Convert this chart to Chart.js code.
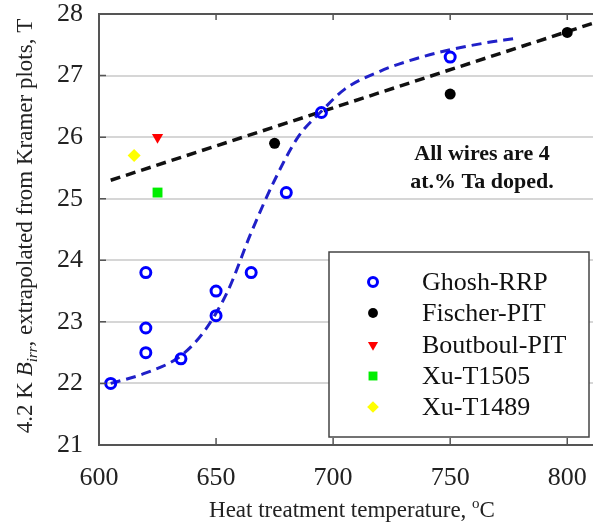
<!DOCTYPE html>
<html>
<head>
<meta charset="utf-8">
<script src="https://cdn.jsdelivr.net/npm/chart.js@4.4.0/dist/chart.umd.min.js"></script>
<style>
  html, body { margin: 0; padding: 0; background: #fff; }
  #wrap { width: 593px; height: 527px; }
</style>
</head>
<body>
<div id="wrap"><canvas id="chart"></canvas></div>
<script>
// data
const xTicks = [600, 650, 700, 750, 800];
const yTicks = [21, 22, 23, 24, 25, 26, 27, 28];

const ghoshT = [605, 620, 620, 620, 635, 650, 650, 665, 680, 695, 750];
const ghoshB = [22.0, 23.8, 22.9, 22.5, 22.4, 23.5, 23.1, 23.8, 25.1, 26.4, 27.3];
const fischerT = [675, 750, 800];
const fischerB = [25.9, 26.7, 27.7];
const boutboulT = [625];
const boutboulB = [26.0];
const xu1505T = [625];
const xu1505B = [25.1];
const xu1489T = [615];
const xu1489B = [25.7];

// dashed guide curves
const rrpFitT = [605, 620, 635, 645, 655, 665, 675, 685, 695, 705, 720, 735, 750, 765, 777];
const rrpFitB = [22.0, 22.17, 22.45, 22.85, 23.5, 24.45, 25.3, 26.0, 26.42, 26.78, 27.07, 27.27, 27.42, 27.53, 27.6];
const pitFitT = [605, 811];
const pitFitB = [25.3, 27.85];

const seriesNames = ["Ghosh-RRP", "Fischer-PIT", "Boutboul-PIT", "Xu-T1505", "Xu-T1489"];

const pts = (xs, ys) => xs.map((x, i) => ({ x: x, y: ys[i] }));
const SERIF = "'Liberation Serif', 'DejaVu Serif', serif";

const ctx = document.getElementById("chart").getContext("2d");

const framePlugin = {
  id: "frame",
  afterDraw(chart) {
    const c = chart.ctx;
    const a = chart.chartArea;
    const xs = chart.scales.x, ys = chart.scales.y;
    c.save();
    c.strokeStyle = "#555";
    c.lineWidth = 2;
    c.beginPath();
    c.moveTo(a.right + 2, a.top); c.lineTo(a.left, a.top);
    c.lineTo(a.left, a.bottom); c.lineTo(a.right + 2, a.bottom);
    c.stroke();
    c.lineWidth = 1.5;
    c.beginPath();
    yTicks.forEach(v => {
      const y = ys.getPixelForValue(v);
      c.moveTo(a.left, y); c.lineTo(a.left + 7, y);
    });
    xTicks.forEach(v => {
      const x = xs.getPixelForValue(v);
      c.moveTo(x, a.bottom); c.lineTo(x, a.bottom - 7);
      c.moveTo(x, a.top); c.lineTo(x, a.top + 6);
    });
    c.stroke();

    // axis titles
    c.fillStyle = "#222";
    c.textBaseline = "alphabetic";
    // x title with superscript o
    const fs = 23;
    const xt1 = "Heat treatment temperature, ";
    c.font = fs + "px " + SERIF; const w1 = c.measureText(xt1).width;
    c.font = Math.round(fs * 0.65) + "px " + SERIF; const w2 = c.measureText("o").width;
    c.font = fs + "px " + SERIF; const w3 = c.measureText("C").width;
    const x0 = 352 - (w1 + w2 + w3) / 2;
    const by = 517;
    c.textAlign = "left";
    c.fillText(xt1, x0, by);
    c.font = Math.round(fs * 0.65) + "px " + SERIF;
    c.fillText("o", x0 + w1, by - 9);
    c.font = fs + "px " + SERIF;
    c.fillText("C", x0 + w1 + w2, by);

    // y title, rotated, italic B with subscript irr
    c.save();
    c.translate(32, 226);
    c.rotate(-Math.PI / 2);
    const parts = [
      { t: "4.2 K ", f: fs + "px " + SERIF, dy: 0 },
      { t: "B", f: "italic " + fs + "px " + SERIF, dy: 0 },
      { t: "irr", f: "italic " + Math.round(fs * 0.65) + "px " + SERIF, dy: 5 },
      { t: ", extrapolated from Kramer plots, T", f: fs + "px " + SERIF, dy: 0 }
    ];
    let tot = 0;
    parts.forEach(p => { c.font = p.f; p.w = c.measureText(p.t).width; tot += p.w; });
    let px = -tot / 2;
    parts.forEach(p => { c.font = p.f; c.fillText(p.t, px, p.dy); px += p.w; });
    c.restore();

    // annotation
    c.fillStyle = "#111";
    c.textAlign = "center";
    c.font = "bold 22px " + SERIF;
    c.fillText("All wires are 4", 482, 160);
    c.fillText("at.% Ta doped.", 482, 188);

    // legend box
    const lb = { x: 329, y: 252, w: 260, h: 185 };
    c.fillStyle = "#fff";
    c.fillRect(lb.x, lb.y, lb.w, lb.h);
    c.strokeStyle = "#444";
    c.lineWidth = 1.5;
    c.strokeRect(lb.x, lb.y, lb.w, lb.h);
    const rows = [282, 313, 345, 376, 407];
    const draw = Chart.helpers && Chart.helpers.drawPoint;
    seriesNames.forEach((name, i) => {
      const ds = chart.data.datasets[i];
      c.save();
      c.fillStyle = ds.backgroundColor;
      c.strokeStyle = ds.borderColor;
      c.lineWidth = ds.borderWidth;
      if (draw) {
        draw(c, {
          pointStyle: ds.pointStyle,
          rotation: ds.rotation || 0,
          radius: ds.pointRadius * 0.9,
          borderWidth: ds.borderWidth
        }, 373, rows[i]);
      }
      c.restore();
      c.fillStyle = "#111";
      c.textAlign = "left";
      c.textBaseline = "middle";
      c.font = "26px " + SERIF;
      c.fillText(name, 422, rows[i] + 1);
    });
    c.restore();
  }
};

new Chart(ctx, {
  type: "scatter",
  data: {
    datasets: [
      {
        label: seriesNames[0],
        data: pts(ghoshT, ghoshB),
        pointStyle: "circle",
        pointRadius: 5,
        borderWidth: 3,
        borderColor: "#0000ff",
        backgroundColor: "rgba(255,255,255,0)"
      },
      {
        label: seriesNames[1],
        data: pts(fischerT, fischerB),
        pointStyle: "circle",
        pointRadius: 5.5,
        borderWidth: 0,
        borderColor: "#000",
        backgroundColor: "#000"
      },
      {
        label: seriesNames[2],
        data: pts(boutboulT, boutboulB),
        pointStyle: "triangle",
        rotation: 180,
        pointRadius: 6.5,
        borderWidth: 0,
        borderColor: "#ff0000",
        backgroundColor: "#ff0000"
      },
      {
        label: seriesNames[3],
        data: pts(xu1505T, xu1505B),
        pointStyle: "rect",
        pointRadius: 7,
        borderWidth: 0,
        borderColor: "#00ee00",
        backgroundColor: "#00ee00"
      },
      {
        label: seriesNames[4],
        data: pts(xu1489T, xu1489B),
        pointStyle: "rectRot",
        pointRadius: 6.5,
        borderWidth: 0,
        borderColor: "#ffff00",
        backgroundColor: "#ffff00"
      },
      {
        label: "RRP fit",
        data: pts(rrpFitT, rrpFitB),
        showLine: true,
        pointRadius: 0,
        borderColor: "#2020c8",
        borderWidth: 3,
        borderDash: [10, 6],
        cubicInterpolationMode: "monotone",
        fill: false
      },
      {
        label: "PIT fit",
        data: pts(pitFitT, pitFitB),
        showLine: true,
        pointRadius: 0,
        borderColor: "#111",
        borderWidth: 3.5,
        borderDash: [10, 6],
        fill: false
      }
    ]
  },
  options: {
    responsive: true,
    maintainAspectRatio: false,
    animation: false,
    layout: { autoPadding: false, padding: { top: 14, right: 0, left: 0, bottom: 0 } },
    plugins: { legend: { display: false }, tooltip: { enabled: false } },
    scales: {
      x: {
        type: "linear",
        min: 600,
        max: 811,
        afterBuildTicks: s => { s.ticks = xTicks.map(v => ({ value: v })); },
        afterFit: s => { s.height = 82; s.paddingLeft = 0; s.paddingRight = 0; },
        grid: { display: false, drawTicks: false },
        border: { display: false },
        ticks: { padding: 18, color: "#222", font: { family: SERIF, size: 26 } }
      },
      y: {
        min: 21,
        max: 28,
        afterBuildTicks: s => { s.ticks = yTicks.map(v => ({ value: v })); },
        afterFit: s => { s.width = 99; s.paddingTop = 0; s.paddingBottom = 0; },
        grid: { color: "#d6d6d6", lineWidth: 2, drawTicks: false },
        border: { display: false },
        ticks: { padding: 16, color: "#222", font: { family: SERIF, size: 26 } }
      }
    }
  },
  plugins: [framePlugin]
});
</script>
</body>
</html>
